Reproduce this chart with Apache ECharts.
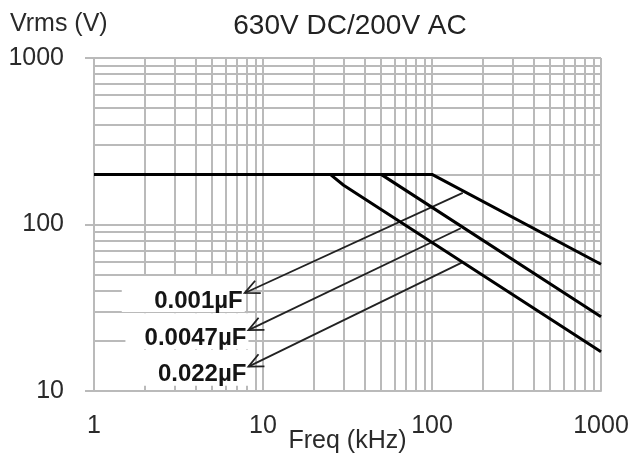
<!DOCTYPE html>
<html>
<head>
<meta charset="utf-8">
<script src="https://cdn.jsdelivr.net/npm/echarts@6/dist/echarts.min.js"></script>
<style>
html,body{margin:0;padding:0;background:#fff;}
#chart{width:631px;height:457px;}
</style>
</head>
<body>
<div id="chart"></div>
<script>
// ---- data ----
const chartTitle = '630V DC/200V AC';
const yAxisName = 'Vrms (V)';
const xAxisName = 'Freq (kHz)';

const capLabels = ['0.001µF', '0.0047µF', '0.022µF'];
// curves: [freq kHz, Vrms]
const curve001 = [[1, 200], [100, 200], [1000, 57.7]];
const curve0047 = [[1, 200], [50, 200], [1000, 27.9]];
const curve022 = [[1, 200], [25, 200], [30, 172], [1000, 17.2]];

// annotation arrows: tip (at label) -> end (on curve)
const arrowTipF = [7.8, 8.2, 8.2];
const arrowTipV = [38.8, 23.2, 14.0];
const arrowEndF = [152, 148, 150];
const arrowEndV = [155, 95, 59];

// grid line values
const xGridValues = [2,3,4,5,6,7,8,9,10,20,30,40,50,60,70,80,90,100,200,300,400,500,600,700,800,900,1000];
const yGridValues = [20,30,40,50,60,70,80,90,100,200,300,400,500,600,700,800,900,1000];

// ---- chart ----
const chart = echarts.init(document.getElementById('chart'), null, {renderer: 'canvas'});
const FONT = '"Liberation Sans", Arial, Helvetica, sans-serif';
const GRID_COLOR = '#bababa';

const arrowData = capLabels.map((_, i) => [arrowTipF[i], arrowTipV[i], arrowEndF[i], arrowEndV[i]]);

const gridMarkData = [];
xGridValues.forEach(v => gridMarkData.push({xAxis: v}));
yGridValues.forEach(v => gridMarkData.push({yAxis: v}));

function curveSeries(name, data) {
  return {
    name: name, type: 'line', data: data, showSymbol: false, symbol: 'none',
    lineStyle: {color: '#000', width: 3}, z: 10, silent: true, animation: false
  };
}

const option = {
  animation: false,
  backgroundColor: '#fff',
  grid: {left: 94, right: 30, top: 58, bottom: 66, containLabel: false, outerBoundsMode: 'none'},
  graphic: [
    {type: 'text', x: 350, y: 26, style: {text: chartTitle, align: 'center', verticalAlign: 'middle',
      font: '28px ' + FONT, fill: '#222'}},
    {type: 'text', x: 10, y: 24, style: {text: yAxisName, align: 'left', verticalAlign: 'middle',
      font: '25px ' + FONT, fill: '#2a2a2a'}}
  ],
  xAxis: {
    type: 'log', logBase: 10, min: 1, max: 1000,
    name: xAxisName, nameLocation: 'middle', nameGap: 50, nameMoveOverlap: false,
    nameTextStyle: {fontFamily: FONT, fontSize: 25, color: '#2a2a2a', verticalAlign: 'middle'},
    axisLine: {show: true, lineStyle: {color: GRID_COLOR, width: 2}},
    axisTick: {show: false},
    splitLine: {show: false},
    axisLabel: {fontFamily: FONT, fontSize: 25, color: '#2a2a2a', margin: 35, verticalAlign: 'middle',
      formatter: v => String(Math.round(v))}
  },
  yAxis: {
    type: 'log', logBase: 10, min: 10, max: 1000,
    axisLine: {show: true, lineStyle: {color: GRID_COLOR, width: 2}},
    axisTick: {show: true, length: 9, lineStyle: {color: GRID_COLOR, width: 2}},
    splitLine: {show: false},
    axisLabel: {fontFamily: FONT, fontSize: 25, color: '#2a2a2a', margin: 30,
      formatter: v => String(Math.round(v))}
  },
  series: [
    {
      type: 'line', data: [[1, 10]], showSymbol: false, symbol: 'none', z: 1, silent: true,
      lineStyle: {opacity: 0},
      markLine: {
        silent: true, symbol: 'none', animation: false,
        label: {show: false},
        lineStyle: {color: GRID_COLOR, width: 2, type: 'solid'},
        emphasis: {disabled: true},
        data: gridMarkData
      }
    },
    curveSeries(capLabels[0], curve001),
    curveSeries(capLabels[1], curve0047),
    curveSeries(capLabels[2], curve022),
    {
      type: 'custom', z: 5, silent: true,
      data: arrowData,
      encode: {x: [0, 2], y: [1, 3]},
      renderItem: function (params, api) {
        const tip = api.coord([api.value(0), api.value(1)]);
        const end = api.coord([api.value(2), api.value(3)]);
        const dx = end[0] - tip[0], dy = end[1] - tip[1];
        const L = Math.hypot(dx, dy);
        const ux = dx / L, uy = dy / L;
        const a = 25 * Math.PI / 180, len = 16;
        const arm1 = [tip[0] + len * (ux * Math.cos(a) - uy * Math.sin(a)), tip[1] + len * (ux * Math.sin(a) + uy * Math.cos(a))];
        const arm2 = [tip[0] + len * (ux * Math.cos(-a) - uy * Math.sin(-a)), tip[1] + len * (ux * Math.sin(-a) + uy * Math.cos(-a))];
        return {
          type: 'group',
          children: [
            {type: 'rect', shape: {x: tip[0] - 123, y: tip[1] - 17, width: 123, height: 36},
              style: {fill: '#fff'}},
            {type: 'text', style: {text: capLabels[params.dataIndex], x: tip[0] - 2, y: tip[1] + 8,
              align: 'right', verticalAlign: 'middle', font: 'bold 24px ' + FONT, fill: '#151515'}},
            {type: 'line', shape: {x1: tip[0], y1: tip[1], x2: end[0], y2: end[1]},
              style: {stroke: '#222', lineWidth: 1.8}},
            {type: 'polyline', shape: {points: [arm1, tip, arm2]},
              style: {stroke: '#222', lineWidth: 1.8, fill: null}}
          ]
        };
      }
    }
  ]
};
chart.setOption(option);
</script>
</body>
</html>
